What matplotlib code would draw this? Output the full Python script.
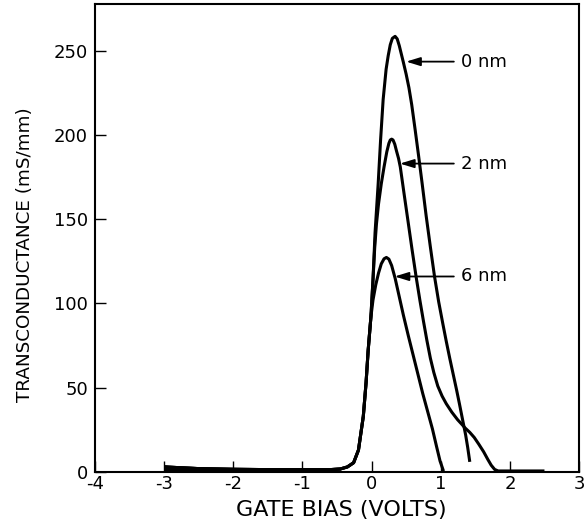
import matplotlib.pyplot as plt

plt.rcParams['font.family'] = 'DejaVu Sans'
plt.rcParams['axes.unicode_minus'] = False

# transconductance (mS/mm) vs gate bias (V) for three cap thicknesses
v_0nm = [-3.0, -2.5, -2.0, -1.5, -1.0, -0.6, -0.45, -0.35, -0.26, -0.19, -0.12, -0.08, -0.05,
         -0.01, 0.02, 0.05, 0.095, 0.13, 0.167, 0.21, 0.24, 0.27, 0.30, 0.34, 0.37, 0.40, 0.43,
         0.46, 0.50, 0.54, 0.58, 0.63, 0.68, 0.73, 0.789, 0.85, 0.91, 0.97, 1.03, 1.08, 1.13,
         1.18, 1.23, 1.27, 1.316, 1.36, 1.39, 1.42]
gm_0nm = [3.0, 2.0, 1.6, 1.4, 1.4, 1.4, 1.8, 3.0, 5.5, 13, 33, 53, 72,
          92, 114, 142, 171, 197, 221, 239, 247, 253.5, 257.3, 258.5, 257, 253, 248,
          243, 236, 228, 218, 203, 187.5, 171.5, 152, 133.5, 116, 101, 88, 77.5, 67.5,
          58, 48.5, 40.5, 31, 22, 14.5, 6]

v_2nm = [-3.0, -2.5, -2.0, -1.5, -1.0, -0.6, -0.45, -0.35, -0.26, -0.19, -0.12, -0.08, -0.05,
         -0.01, 0.02, 0.045, 0.07, 0.10, 0.14, 0.18, 0.22, 0.25, 0.27, 0.29, 0.31, 0.335, 0.36,
         0.39, 0.415, 0.47, 0.526, 0.585, 0.645, 0.70, 0.75, 0.80, 0.85, 0.90, 0.957, 1.02,
         1.08, 1.16, 1.244, 1.30, 1.355, 1.42, 1.484, 1.55, 1.62, 1.68, 1.73, 1.78, 1.83,
         2.0, 2.5]
gm_2nm = [3.0, 2.0, 1.6, 1.4, 1.4, 1.4, 1.8, 3.0, 5.5, 13, 33, 53, 72,
          92, 114, 133, 147, 159, 171, 181, 190, 195, 197, 197.5, 197, 194.5, 190.5,
          186, 181, 165, 149, 132, 115.5, 101.5, 89.5, 78, 67.5, 59, 51, 45,
          40.5, 35.5, 31, 28.5, 26, 23.5, 20.5, 16.5, 12, 7.5, 4, 1.5, 0.6,
          0.6, 0.6]

v_6nm = [-3.0, -2.5, -2.0, -1.5, -1.0, -0.6, -0.45, -0.35, -0.26, -0.19, -0.12, -0.08, -0.05,
         -0.01, 0.02, 0.06, 0.10, 0.14, 0.18, 0.214, 0.25, 0.29, 0.34, 0.40, 0.46, 0.53,
         0.60, 0.67, 0.74, 0.81, 0.88, 0.94, 0.99, 1.04]
gm_6nm = [3.0, 2.0, 1.6, 1.4, 1.4, 1.4, 1.8, 3.0, 5.5, 13, 33, 53, 72,
          92, 102, 111, 118, 123.5, 126.5, 127.3, 126.3, 122.5, 115, 104, 93, 81,
          69.5, 58, 46.5, 36, 25.5, 15, 6.5, 0.5]

# leakage floor below pinch-off
floor_v = [-3.0, -3.0, -2.9, -2.7, -2.5, -2.0, -1.5, -1.0, -0.6, -0.45]
floor_gm = [0, 4.2, 3.6, 2.8, 2.3, 1.7, 1.5, 1.4, 1.4, 1.2]

curve_names = ['0 nm', '2 nm', '6 nm']
arrow_tip_v = [0.50, 0.41, 0.333]
arrow_gm = [243.5, 183, 116]
label_v = 1.29

fig = plt.figure(figsize=(5.84, 5.25), dpi=100)
ax = fig.add_axes([0.1627, 0.101, 0.8288, 0.8914])

for v, gm in [(v_0nm, gm_0nm), (v_2nm, gm_2nm), (v_6nm, gm_6nm)]:
    ax.plot(v, gm, color='black', lw=2.2, solid_joinstyle='round', solid_capstyle='butt')
ax.fill_between(floor_v, 0, floor_gm, color='black', lw=0)

for name, tip, g in zip(curve_names, arrow_tip_v, arrow_gm):
    ax.annotate(name, xy=(tip, g), xytext=(label_v, g), ha='left', va='center', fontsize=13,
                arrowprops=dict(arrowstyle='-|>,head_length=0.65,head_width=0.2',
                                color='black', lw=1.3, shrinkA=3, shrinkB=0))

ax.set_xlim(-4, 3)
ax.set_ylim(0, 277.7)
ax.set_xticks(range(-4, 4))
ax.set_yticks([0, 50, 100, 150, 200, 250])
ax.tick_params(direction='in', length=8, width=1, labelsize=13)
ax.tick_params(axis='x', pad=2)
ax.tick_params(axis='y', pad=5)
for sp in ax.spines.values():
    sp.set_linewidth(1.5)

ax.set_xlabel('GATE BIAS (VOLTS)', fontsize=16, va='center', ha='center')
ax.xaxis.set_label_coords((341 - 95) / 484, (472 - 510) / 468)
ax.set_ylabel('TRANSCONDUCTANCE (mS/mm)', fontsize=13.2, va='center', ha='center')
ax.yaxis.set_label_coords((25 - 95) / 484, (472 - 255) / 468)

fig.savefig('out.png', dpi=100)
